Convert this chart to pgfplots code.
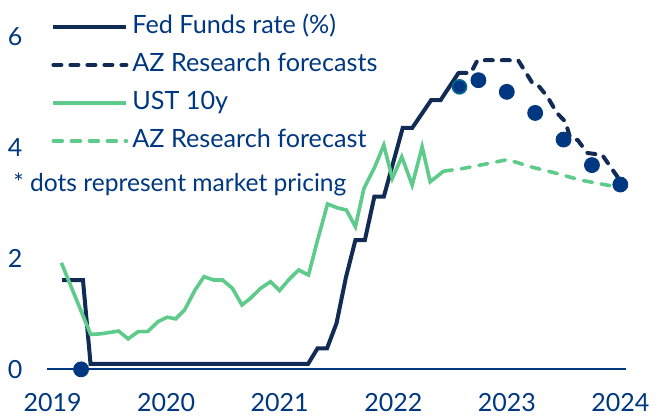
\documentclass[border=0pt]{standalone}
\usepackage{pgfplots}
\pgfplotsset{compat=1.18}
\usepackage{fontspec}
\setmainfont{Lato}
\definecolor{azblue}{HTML}{003781}
\definecolor{navy}{HTML}{122B54}
\definecolor{azgreen}{HTML}{5ECB8A}
\definecolor{dotedge}{HTML}{00678F}
\begin{document}
\begin{tikzpicture}
\begin{axis}[
  scale only axis,
  width=289.5pt, height=180.4pt,
  xmin=-0.6, xmax=60.6, ymin=0, ymax=6.5,
  axis x line*=bottom, axis y line*=left,
  x axis line style={azblue, line width=1pt, -},
  y axis line style={draw=none},
  xtick={0,12,24,36,48,60},
  xticklabels={2019,2020,2021,2022,2023,2024},
  ytick={0,2,4,6},
  major tick length=0pt,
  /pgf/number format/assume math mode=true,
  tick label style={font=\fontsize{12.5}{14}\selectfont, text=azblue},
  yticklabel style={anchor=center, xshift=-16pt},
  xticklabel style={anchor=center, yshift=-16.4pt},
  clip=false,
  legend cell align=left,
  legend style={draw=none, fill=none, inner sep=0pt,
    at={(rel axis cs:0,1)}, anchor=north west, xshift=2pt, yshift=-0.5pt,
    font=\fontsize{12.6}{14}\selectfont, text=azblue,
    nodes={text height=10pt, text depth=3pt},
    row sep=2pt},
  legend image code/.code={\draw[#1] (0pt,0pt) -- (36.5pt,0pt);},
]
% Fed Funds rate
\addplot[navy, line width=2pt] coordinates {
(1,1.61) (3.2,1.61) (4,0.1) (27,0.1) (28,0.38) (29,0.38) (30,0.83)
(31,1.66) (32,2.33) (33,2.33) (34,3.11) (35,3.11) (37,4.35) (38,4.35)
(40,4.85) (41,4.85) (42.9,5.34)
};
\addlegendentry{Fed Funds rate (\%)}
% AZ forecast, policy rate
\addplot[navy, line width=2pt, line cap=round, dash pattern=on 4pt off 4.5pt] coordinates {
(42.9,5.34) (44.2,5.34) (44.9,5.57) (49.2,5.57) (50.7,5.16) (51.3,5.12)
(52.3,4.91) (53.3,4.62) (54.2,4.46) (54.7,4.17) (55.5,4.13) (56.5,3.90)
(58.1,3.86) (59.2,3.59) (59.9,3.42)
};
\addlegendentry{AZ Research forecasts}
% UST 10y
\addplot[azgreen, line width=1.8pt] coordinates {
(0.92,1.92) (4.01,0.63) (5.07,0.64) (6.97,0.69) (7.98,0.55) (9.03,0.68)
(10.03,0.68) (11.14,0.86) (12.1,0.94) (13.0,0.91) (13.94,1.07) (15.05,1.43)
(16.0,1.67) (17.0,1.61) (17.96,1.61) (19.0,1.46) (20.0,1.16) (20.9,1.28)
(21.97,1.46) (23.03,1.58) (23.98,1.42) (24.98,1.62) (25.99,1.79) (27.04,1.70)
(28,2.33) (29.05,2.98) (30.1,2.91) (31.05,2.87) (32.0,2.57) (32.9,3.26)
(34,3.63) (35.0,4.04) (35.9,3.44) (36.9,3.83) (38.0,3.32) (39.05,4.01)
(39.9,3.38) (40.8,3.50) (41.3,3.57)
};
\addlegendentry{UST 10y}
% AZ forecast, UST 10y
\addplot[azgreen, line width=1.8pt, line cap=round, dash pattern=on 4.5pt off 4.5pt] coordinates {
(41.3,3.57) (43.4,3.62) (46.1,3.71) (48.1,3.78) (50.5,3.65) (53.3,3.53)
(55.8,3.41) (58.6,3.32) (60,3.28)
};
\addlegendentry{AZ Research forecast}
% market pricing
\addplot[only marks, mark=*, mark size=3.75pt, mark options={draw=azblue, fill=azblue}, forget plot] coordinates {
(3,0) (45,5.21) (48,5.0) (51,4.62) (54,4.14) (57,3.68) (60,3.33)
};
\addplot[only marks, mark=*, mark size=3.5pt, mark options={draw=dotedge, fill=azblue, line width=0.8pt}, forget plot] coordinates {
(43,5.09)
};
\node[anchor=west, inner sep=0pt, text=azblue, font=\fontsize{12.3}{14}\selectfont] at (axis cs:-4.2,3.33) {* dots represent market pricing};
\path (rel axis cs:-0.0812,-0.1295) rectangle (rel axis cs:1.0691,1.0238);
\end{axis}
\end{tikzpicture}
\end{document}
